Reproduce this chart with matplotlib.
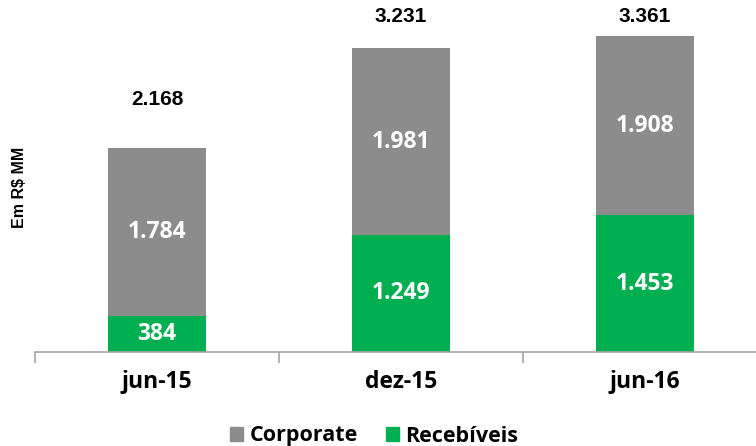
import matplotlib.pyplot as plt
import numpy as np
from matplotlib.patches import Patch

# Dados
periodos = ["jun-15", "dez-15", "jun-16"]
recebiveis = [384, 1249, 1453]
corporate = [1784, 1981, 1908]
totais = ["2.168", "3.231", "3.361"]

cor_corp = "#8c8c8c"
cor_rec = "#00b050"

def fmt(v):
    return f"{v:,}".replace(",", ".")

fig = plt.figure(figsize=(7.56, 4.46), dpi=100)
ax = fig.add_axes([35 / 756, (446 - 352) / 446, 732 / 756, 352 / 446])

x = np.arange(len(periodos))
largura = 0.4
ax.bar(x, recebiveis, largura, color=cor_rec)
ax.bar(x, corporate, largura, bottom=recebiveis, color=cor_corp)

ax.set_xlim(-0.5, 2.5)
ytop = 3745
ax.set_ylim(0, ytop)

fonte_seg = "Open Sans"
for i in range(len(periodos)):
    ax.text(x[i], recebiveis[i] / 2, fmt(recebiveis[i]), ha="center", va="center",
            color="white", fontsize=16.5, fontweight="bold", family=fonte_seg)
    ax.text(x[i], recebiveis[i] + corporate[i] / 2, fmt(corporate[i]), ha="center", va="center",
            color="white", fontsize=16.5, fontweight="bold", family=fonte_seg)
    total = recebiveis[i] + corporate[i]
    ax.text(x[i], min(total + 520, ytop - 180), totais[i], ha="center", va="center",
            color="black", fontsize=15, fontweight="bold", family="Liberation Sans")

for s in ["top", "right", "left"]:
    ax.spines[s].set_visible(False)
ax.spines["bottom"].set_color("#a6a6a6")
ax.spines["bottom"].set_linewidth(1.2)
ax.set_yticks([])
ax.set_xticks(x)
ax.set_xticklabels(periodos, fontsize=16.5, fontweight="bold", family=fonte_seg)
ax.tick_params(axis="x", which="major", length=0, pad=13)
ax.set_xticks([-0.5, 0.5, 1.5, 2.5], minor=True)
ax.tick_params(axis="x", which="minor", length=8, color="#a6a6a6", width=1.2)

fig.text(20 / 756, 1 - 187 / 446, "Em R$ MM", rotation=90, ha="center", va="center",
         fontsize=11.5, fontweight="bold", family="Liberation Sans")

handles = [Patch(color=cor_corp, label="Corporate"), Patch(color=cor_rec, label="Recebíveis")]
fig.legend(handles=handles, loc="center", bbox_to_anchor=(374 / 756, 1 - 436 / 446), ncol=2,
           frameon=False, prop={"family": fonte_seg, "weight": "bold", "size": 15.5},
           handlelength=0.6, handleheight=0.6, handletextpad=0.3, columnspacing=1.3,
           borderpad=0)

fig.savefig("out.png", dpi=100)
